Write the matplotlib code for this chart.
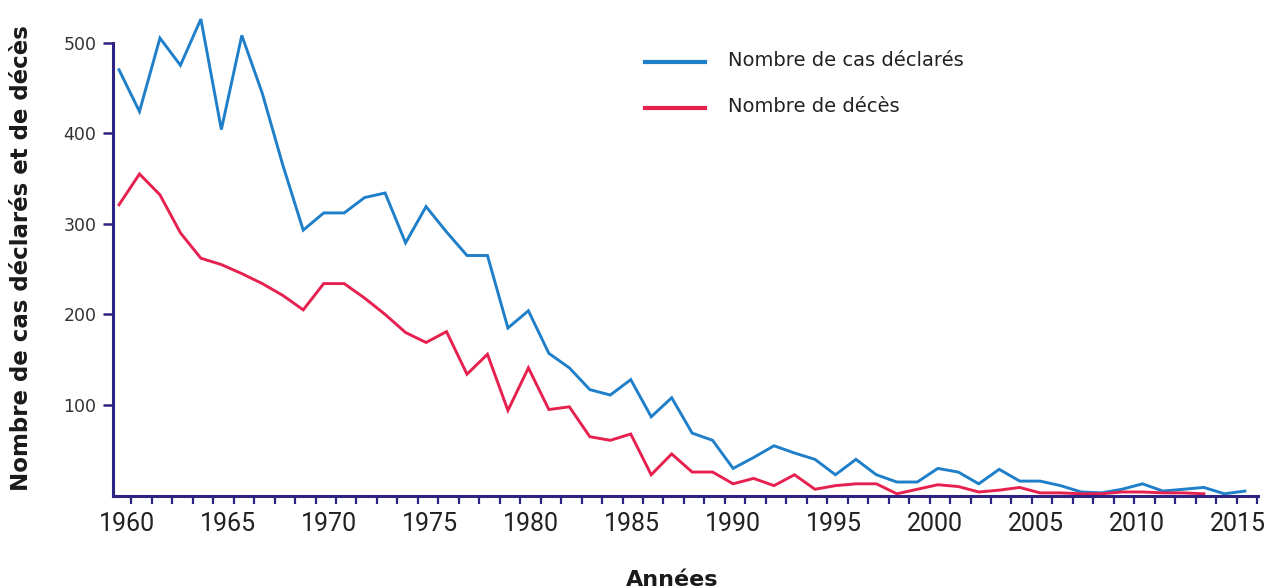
import numpy as np
from matplotlib import pyplot as plt
from matplotlib.lines import Line2D

# cas declares par annee, 1960 - 2015
anneesCas = np.arange(1960, 2016)
nbCas = [470, 424, 505, 475, 526, 404, 508, 444, 365, 293,
         312, 312, 329, 334, 279, 319, 291, 265, 265, 185,
         204, 157, 141, 117, 111, 128, 87, 108, 69, 61,
         30, 42, 55, 47, 40, 23, 40, 23, 15, 15,
         30, 26, 13, 29, 16, 16, 11, 4, 3, 7,
         13, 5, 7, 9, 2, 5]

# deces par annee, 1960 - 2013
anneesDeces = np.arange(1960, 2014)
nbDeces = [321, 355, 332, 290, 262, 255, 245, 234, 221, 205,
           234, 234, 218, 200, 180, 169, 181, 134, 156, 94,
           141, 95, 98, 65, 61, 68, 23, 46, 26, 26,
           13, 19, 11, 23, 7, 11, 13, 13, 2, 7,
           12, 10, 4, 6, 9, 3, 3, 2, 2, 4,
           4, 3, 3, 2]

yTicks = [100, 200, 300, 400, 500]
xLabelYears = [1960, 1965, 1970, 1975, 1980, 1985, 1990, 1995, 2000, 2005, 2010, 2015]

labelCas = "Nombre de cas déclarés"
labelDeces = "Nombre de décès"

blue = '#1f7fc9'
red = '#e6214f'
axisColor = '#2d2383'

fig = plt.figure(figsize=(12.71, 5.88), dpi=100)
ax = fig.add_axes([0.08891, 0.15714, 0.904, 0.83435])

ax.plot(anneesCas, nbCas, color=blue, lw=2.1, solid_joinstyle='miter')
ax.plot(anneesDeces, nbDeces, color=red, lw=2.1, solid_joinstyle='miter')

ax.set_xlim(1959.707, 2015.838)
ax.set_ylim(0, 541.5)

for side in ['top', 'right']:
    ax.spines[side].set_visible(False)
for side in ['left', 'bottom']:
    ax.spines[side].set_color(axisColor)
    ax.spines[side].set_linewidth(2.2)
ax.spines['left'].set_bounds(0, 500)
ax.spines['bottom'].set_bounds(1959.707, 2015.62)

# y axis
ax.set_yticks(yTicks)
ax.set_yticklabels([str(v) for v in yTicks], fontsize=12.5, color='#333333')
ax.tick_params(axis='y', direction='out', length=7, width=1.8, color=axisColor, pad=5)

# x axis: labels near the years (slightly drifting like the original), marks on every year boundary
labelPos = [y + 0.4 - 0.0133 * (y - 1960) for y in xLabelYears]
ax.set_xticks(labelPos)
ax.set_xticklabels([str(v) for v in xLabelYears], fontsize=18, color='#222222',
                   family=['Roboto', 'DejaVu Sans'])
ax.tick_params(axis='x', which='major', length=0, pad=12)
ax.set_xticks(np.arange(1960.6, 2016.0, 1.0), minor=True)
ax.tick_params(axis='x', which='minor', direction='out', length=6, width=1.6, color=axisColor)

fig.text(22 / 1271, 0.5604, "Nombre de cas déclarés et de décès", rotation=90,
         ha='center', va='center', fontsize=16.5, fontweight='bold', color='#1a1a1a')
fig.text(672 / 1271, 2 / 588, "Années", ha='center', va='baseline',
         fontsize=16, fontweight='bold', color='#1a1a1a')

# legende
W, H = 1271.0, 588.0
for yPix, col, txt in [(61.7, blue, labelCas), (108.0, red, labelDeces)]:
    fig.add_artist(Line2D([645 / W, 705 / W], [1 - yPix / H, 1 - yPix / H],
                          color=col, lw=3.0, transform=fig.transFigure))
    fig.text(728 / W, 1 - (yPix - 1) / H, txt, ha='left', va='center',
             fontsize=14, color='#222222')

fig.savefig('out.png', dpi=100)
